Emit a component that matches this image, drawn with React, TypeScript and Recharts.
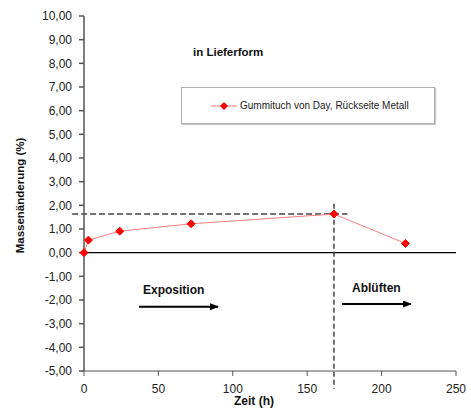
import React from "react";
import {
  Legend,
  Line,
  LineChart,
  ReferenceLine,
  XAxis,
  YAxis,
} from "recharts";

// Zeit (h) und Massenänderung (%)
const hours = [0, 3, 24, 72, 168, 216];
const massChange = [0.0, 0.53, 0.91, 1.22, 1.63, 0.39];

const xTicks = [0, 50, 100, 150, 200, 250];
const yTicks = [-5, -4, -3, -2, -1, 0, 1, 2, 3, 4, 5, 6, 7, 8, 9, 10];

const seriesName = "Gummituch von Day, Rückseite Metall";

const data = hours.map((h, i) => ({ h, v: massChange[i] }));

const fmt = (v: number) => v.toFixed(2).replace(".", ",");

const FONT = "'Liberation Sans', Arial, sans-serif";

function Diamond(props: any) {
  const { cx, cy } = props;
  if (cx == null || cy == null) return null;
  const r = 4;
  return (
    <polygon
      points={`${cx},${cy - r} ${cx + r},${cy} ${cx},${cy + r} ${cx - r},${cy}`}
      fill="#ff0000"
      stroke="#ff0000"
      strokeWidth={1}
    />
  );
}

function LegendBox() {
  return (
    <div
      style={{
        width: 254,
        height: 37,
        boxSizing: "border-box",
        border: "1px solid #b0b0b0",
        boxShadow: "1px 1px 1px #c8c8c8",
        background: "#fff",
        display: "flex",
        alignItems: "center",
        fontFamily: FONT,
        fontSize: 10,
        color: "#222",
      }}
    >
      <svg width={58} height={20} style={{ flex: "none" }}>
        <line x1={29} y1={10} x2={55} y2={10} stroke="#ff8080" strokeWidth={1} />
        <polygon points="42,6 46,10 42,14 38,10" fill="#ff0000" />
      </svg>
      <span>{seriesName}</span>
    </div>
  );
}

export default function App() {
  return (
    <div style={{ position: "absolute", left: 0, top: 0, width: 471, height: 408 }}>
      <LineChart
        width={471}
        height={408}
        data={data}
        margin={{ top: 16, right: 15, bottom: 0, left: 0 }}
        style={{ fontFamily: FONT }}
      >
        <XAxis
          dataKey="h"
          type="number"
          domain={[0, 250]}
          ticks={xTicks}
          height={37}
          stroke="#555"
          tickSize={5}
          tickMargin={8}
          tick={{ fontSize: 12, fill: "#222" }}
          label={{
            value: "Zeit (h)",
            position: "insideBottom",
            offset: 3,
            dx: -16,
            style: { fontSize: 12, fontWeight: "bold", fill: "#111" },
          }}
        />
        <YAxis
          type="number"
          domain={[-5, 10]}
          ticks={yTicks}
          interval={0}
          width={84}
          stroke="#555"
          strokeWidth={1.5}
          tickSize={5}
          tickMargin={7}
          tickFormatter={fmt}
          tick={{ fontSize: 12, fill: "#222" }}
          label={{
            value: "Massenänderung (%)",
            angle: -90,
            position: "insideLeft",
            offset: 20,
            dy: 2,
            style: { textAnchor: "middle", fontSize: 11.5, fontWeight: "bold", fill: "#111" },
          }}
        />
        <ReferenceLine y={0} stroke="#000" strokeWidth={1.2} />
        <ReferenceLine
          segment={[
            { x: -8, y: 1.63 },
            { x: 177, y: 1.63 },
          ]}
          ifOverflow="visible"
          stroke="#444"
          strokeWidth={1.5}
          strokeDasharray="6 3"
        />
        <ReferenceLine
          segment={[
            { x: 168, y: 2.07 },
            { x: 168, y: -5.75 },
          ]}
          ifOverflow="visible"
          stroke="#444"
          strokeWidth={1.5}
          strokeDasharray="5 3"
        />
        <Line
          dataKey="v"
          name={seriesName}
          stroke="#ff8080"
          strokeWidth={1}
          dot={<Diamond />}
          activeDot={false}
          isAnimationActive={false}
        />
        <Legend
          layout="horizontal"
          verticalAlign="middle"
          content={() => <LegendBox />}
          wrapperStyle={{ position: "absolute", left: 181, top: 87, width: 254, height: 37 }}
        />
      </LineChart>
      <svg
        width={471}
        height={408}
        style={{ position: "absolute", left: 0, top: 0, pointerEvents: "none" }}
      >
        <defs>
          <marker id="arr" markerWidth="9" markerHeight="7" refX="8" refY="3.5" orient="auto" markerUnits="userSpaceOnUse">
            <path d="M0,0 L9,3.5 L0,7 Z" fill="#000" />
          </marker>
        </defs>
        <g fontFamily={FONT} fontWeight="bold" fill="#111">
          <text x={193} y={55.5} fontSize={11.5}>in Lieferform</text>
          <text x={143} y={293.5} fontSize={12}>Exposition</text>
          <text x={352} y={291.5} fontSize={12}>Ablüften</text>
        </g>
        <line x1={139} y1={306.7} x2={218} y2={306.7} stroke="#000" strokeWidth={2} markerEnd="url(#arr)" />
        <line x1={342} y1={304} x2={411} y2={304} stroke="#000" strokeWidth={2} markerEnd="url(#arr)" />
      </svg>
    </div>
  );
}
